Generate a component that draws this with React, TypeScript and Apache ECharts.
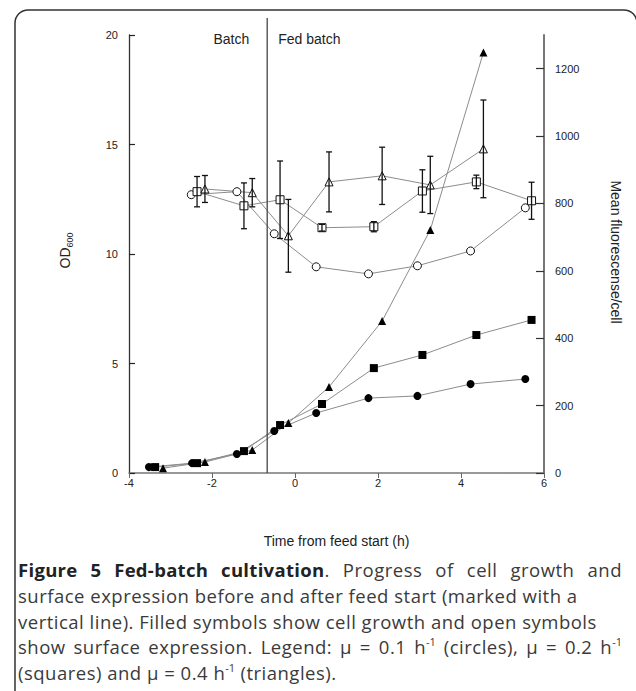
import React, { useEffect, useRef } from "react";
import * as echarts from "echarts";

// ---- tick labels ----
const xTicks = [-4, -2, 0, 2, 4, 6];
const odTicks = [0, 5, 10, 15, 20];
const flTicks = [0, 200, 400, 600, 800, 1000, 1200];

// ---- cell growth (OD600), filled symbols ----
const odCircleX = [-3.52, -2.48, -1.4, -0.5, 0.51, 1.77, 2.95, 4.23, 5.55];
const odCircle = [0.27, 0.45, 0.87, 1.92, 2.74, 3.42, 3.52, 4.06, 4.29];
const odSquareX = [-3.37, -2.36, -1.23, -0.36, 0.65, 1.9, 3.07, 4.37, 5.7];
const odSquare = [0.27, 0.45, 1.0, 2.19, 3.15, 4.79, 5.39, 6.3, 6.99];
const odTriX = [-3.18, -2.17, -1.03, -0.16, 0.82, 2.1, 3.26, 4.54];
const odTri = [0.22, 0.5, 1.05, 2.28, 3.93, 6.94, 11.1, 19.2];

// ---- surface expression (mean fluorescence / cell), open symbols ----
const flCircleX = [-2.5, -1.4, -0.5, 0.51, 1.77, 2.95, 4.23, 5.55];
const flCircle = [826, 835, 710, 612, 591, 615, 659, 787];
const flSquareX = [-2.36, -1.23, -0.36, 0.65, 1.9, 3.07, 4.37, 5.7];
const flSquare = [835, 793, 811, 728, 731, 837, 864, 808];
const flSquareErr = [45, 68, 115, 10, 15, 63, 20, 55];
const flTriX = [-2.17, -1.03, -0.16, 0.82, 2.1, 3.26, 4.54];
const flTri = [843, 832, 704, 864, 882, 855, 962];
const flTriErr = [40, 42, 108, 89, 85, 85, 145];

const FEED_START = -0.67;

const FONT = "'Liberation Sans', Arial, sans-serif";
const LINE_COLOR = "#8c8c8c";

const pairs = (xs: number[], ys: number[]) => xs.map((x, i) => [x, ys[i]]);
const errData = (xs: number[], ys: number[], es: number[]) =>
  xs.map((x, i) => [x, ys[i] - es[i], ys[i] + es[i]]);

function lineSeries(
  name: string,
  data: number[][],
  symbol: string,
  filled: boolean,
  yAxisIndex: number
) {
  return {
    name,
    type: "line",
    yAxisIndex,
    data,
    symbol,
    symbolSize: 8,
    showAllSymbol: true,
    lineStyle: { color: LINE_COLOR, width: 1 },
    itemStyle: filled
      ? { color: "#000", borderColor: "#000", borderWidth: 0 }
      : { color: "#fff", borderColor: "#111", borderWidth: 1 },
    z: filled ? 3 : 4,
  };
}

function errorSeries(name: string, data: number[][]) {
  return {
    name,
    type: "custom",
    yAxisIndex: 1,
    data,
    encode: { x: 0, y: [1, 2] },
    z: 6,
    renderItem: (params: any, api: any) => {
      const x = api.value(0);
      const lo = api.coord([x, api.value(1)]);
      const hi = api.coord([x, api.value(2)]);
      const w = 3;
      const style = { stroke: "#111", lineWidth: 1.3 };
      return {
        type: "group",
        children: [
          { type: "line", shape: { x1: lo[0], y1: lo[1], x2: hi[0], y2: hi[1] }, style },
          { type: "line", shape: { x1: lo[0] - w, y1: lo[1], x2: lo[0] + w, y2: lo[1] }, style },
          { type: "line", shape: { x1: hi[0] - w, y1: hi[1], x2: hi[0] + w, y2: hi[1] }, style },
        ],
      };
    },
  };
}

const supStyle: React.CSSProperties = {
  fontSize: 11,
  position: "relative",
  top: -8,
  lineHeight: 0,
  letterSpacing: 0,
};

export default function App() {
  const ref = useRef<HTMLDivElement>(null);

  useEffect(() => {
    if (!ref.current) return;
    const chart = echarts.init(ref.current, null, { renderer: "svg" });
    const option: any = {
      animation: false,
      backgroundColor: "#fff",
      grid: { left: 129, right: 92, top: 35, bottom: 218 },
      xAxis: {
        type: "value",
        min: xTicks[0],
        max: xTicks[xTicks.length - 1],
        interval: 2,
        name: "Time from feed start (h)",
        nameLocation: "middle",
        nameGap: 61,
        nameTextStyle: { fontFamily: FONT, fontSize: 14, color: "#222" },
        axisLine: { onZero: false, lineStyle: { color: "#777", width: 1.5 } },
        axisTick: { inside: false, length: 5, lineStyle: { color: "#666", width: 1 } },
        axisLabel: { fontFamily: FONT, fontSize: 11, color: "#222", margin: 4 },
        splitLine: { show: false },
      },
      yAxis: [
        {
          type: "value",
          position: "left",
          min: odTicks[0],
          max: odTicks[odTicks.length - 1],
          interval: 5,
          axisLine: { show: true, onZero: false, lineStyle: { color: "#333", width: 1.3 } },
          axisTick: { show: true, inside: true, length: 6, lineStyle: { color: "#222", width: 1.2 } },
          axisLabel: { fontFamily: FONT, fontSize: 11, color: "#222", margin: 11 },
          splitLine: { show: false },
        },
        {
          type: "value",
          position: "right",
          min: 0,
          max: 1300,
          interval: 200,
          axisLine: { show: true, onZero: false, lineStyle: { color: "#777", width: 2 } },
          axisTick: {
            show: true,
            inside: true,
            length: 8,
            customValues: flTicks,
            lineStyle: { color: "#333", width: 1.2 },
          },
          axisLabel: {
            fontFamily: FONT,
            fontSize: 11,
            color: "#222",
            margin: 11,
            customValues: flTicks,
            formatter: (v: number) => (flTicks.indexOf(v) >= 0 ? String(v) : ""),
          },
          splitLine: { show: false },
        },
      ],
      series: [
        lineSeries("OD µ=0.1", pairs(odCircleX, odCircle), "circle", true, 0),
        lineSeries("OD µ=0.2", pairs(odSquareX, odSquare), "rect", true, 0),
        lineSeries("OD µ=0.4", pairs(odTriX, odTri), "triangle", true, 0),
        lineSeries("Fluor µ=0.1", pairs(flCircleX, flCircle), "circle", false, 1),
        lineSeries("Fluor µ=0.2", pairs(flSquareX, flSquare), "rect", false, 1),
        lineSeries("Fluor µ=0.4", pairs(flTriX, flTri), "triangle", false, 1),
        errorSeries("Err µ=0.2", errData(flSquareX, flSquare, flSquareErr)),
        errorSeries("Err µ=0.4", errData(flTriX, flTri, flTriErr)),
      ],
    };
    chart.setOption(option);

    const lx = chart.convertToPixel({ xAxisIndex: 0 }, FEED_START) as number;
    const y0 = chart.convertToPixel({ yAxisIndex: 0 }, 0) as number;

    chart.setOption({
      graphic: [
        {
          type: "rect",
          id: "frame",
          shape: { x: 15, y: 10, width: 622, height: 900, r: 13 },
          style: { fill: "none", stroke: "#333", lineWidth: 1.5 },
          silent: true,
        },
        {
          type: "line",
          id: "feedline",
          shape: { x1: lx, y1: 18, x2: lx, y2: y0 },
          style: { stroke: "#444", lineWidth: 1.3 },
          z: 10,
        },
        {
          type: "text",
          id: "batch",
          x: lx - 18,
          y: 39,
          style: {
            text: "Batch",
            fontFamily: FONT,
            fontSize: 14,
            fill: "#222",
            align: "right",
            verticalAlign: "middle",
          },
        },
        {
          type: "text",
          id: "fedbatch",
          x: lx + 11,
          y: 39,
          style: {
            text: "Fed batch",
            fontFamily: FONT,
            fontSize: 14,
            fill: "#222",
            align: "left",
            verticalAlign: "middle",
          },
        },
        {
          type: "text",
          id: "od",
          x: 65,
          y: 258,
          rotation: Math.PI / 2,
          style: {
            text: "OD",
            fontFamily: FONT,
            fontSize: 14,
            fill: "#222",
            align: "center",
            verticalAlign: "middle",
          },
        },
        {
          type: "text",
          id: "od600",
          x: 70,
          y: 240,
          rotation: Math.PI / 2,
          style: {
            text: "600",
            fontFamily: FONT,
            fontSize: 9,
            fill: "#222",
            align: "center",
            verticalAlign: "middle",
          },
        },
        {
          type: "text",
          id: "fluor",
          x: 616,
          y: 252,
          rotation: -Math.PI / 2,
          style: {
            text: "Mean fluorescense/cell",
            fontFamily: FONT,
            fontSize: 14,
            fill: "#222",
            align: "center",
            verticalAlign: "middle",
          },
        },
      ],
    });

    return () => chart.dispose();
  }, []);

  return (
    <div style={{ position: "absolute", left: 0, top: 0, width: 636, height: 691, background: "#fff" }}>
      <div ref={ref} style={{ position: "absolute", left: 0, top: 0, width: 636, height: 691 }} />
      <div
        style={{
          position: "absolute",
          left: 18,
          top: 557,
          width: 604,
          fontFamily: "'Open Sans', sans-serif",
          fontSize: 18.5,
          letterSpacing: 0.5,
          lineHeight: "25.8px",
          color: "#3a3a3a",
          whiteSpace: "nowrap",
        }}
      >
        <div style={{ textAlign: "justify", textAlignLast: "justify" }}>
          <b style={{ color: "#222", letterSpacing: 0.3 }}>Figure 5 Fed-batch cultivation</b>. Progress of cell growth and
        </div>
        <div>surface expression before and after feed start (marked with a</div>
        <div>vertical line). Filled symbols show cell growth and open symbols</div>
        <div style={{ textAlign: "justify", textAlignLast: "justify" }}>
          show surface expression. Legend: μ = 0.1 h<span style={supStyle}>-1</span> (circles), μ = 0.2 h
          <span style={supStyle}>-1</span>
        </div>
        <div>
          (squares) and μ = 0.4 h<span style={supStyle}>-1</span> (triangles).
        </div>
      </div>
    </div>
  );
}
